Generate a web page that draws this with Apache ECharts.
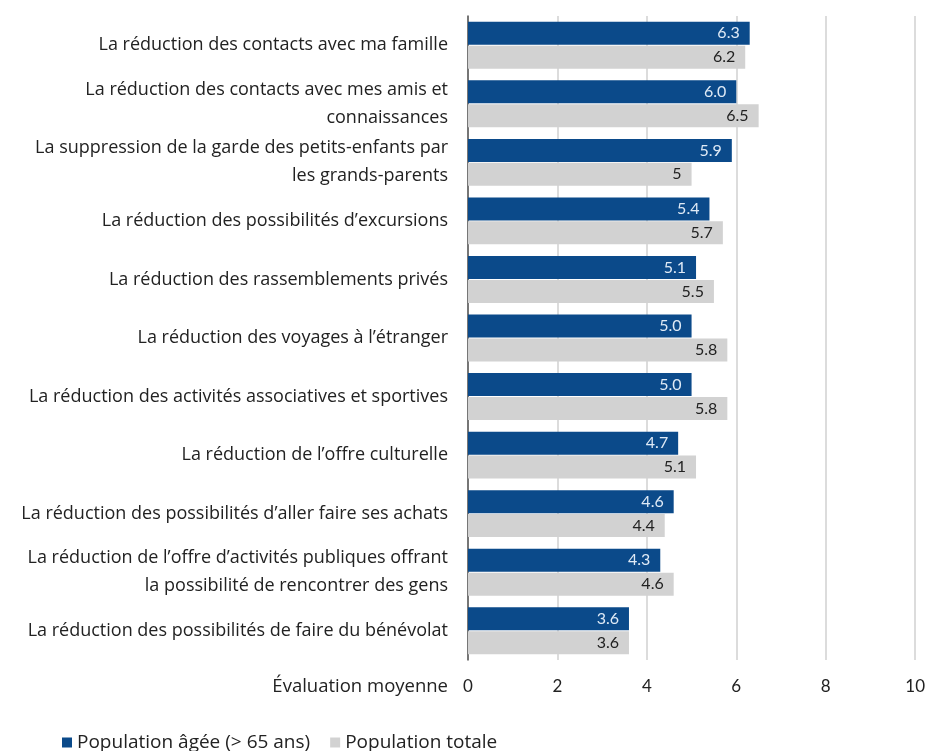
<!DOCTYPE html>
<html>
<head>
<meta charset="utf-8">
<script src="https://cdn.jsdelivr.net/npm/echarts@6/dist/echarts.min.js"></script>
<style>
    html, body {margin: 0; padding: 0; background: #fff;}
    #chart {width: 928px; height: 751px;}
</style>
</head>
<body>
<div id="chart"></div>
<script>
const categories = [
    'La réduction des contacts avec ma famille',
    'La réduction des contacts avec mes amis et\nconnaissances',
    'La suppression de la garde des petits-enfants par\nles grands-parents',
    'La réduction des possibilités d\u2019excursions',
    'La réduction des rassemblements privés',
    'La réduction des voyages à l\u2019étranger',
    'La réduction des activités associatives et sportives',
    'La réduction de l\u2019offre culturelle',
    'La réduction des possibilités d\u2019aller faire ses achats',
    'La réduction de l\u2019offre d\u2019activités publiques offrant\nla possibilité de rencontrer des gens',
    'La réduction des possibilités de faire du bénévolat'
]
const seniors = [6.3, 6.0, 5.9, 5.4, 5.1, 5.0, 5.0, 4.7, 4.6, 4.3, 3.6]
const total = [6.2, 6.5, 5, 5.7, 5.5, 5.8, 5.8, 5.1, 4.4, 4.6, 3.6]
const seriesNames = ['Population âgée (> 65 ans)', 'Population totale']
const colors = ['#0b4a8a', '#d2d2d2']

const chartObj = echarts.init(document.getElementById('chart'))

const labelFont = 'Open Sans'

const option = {
    backgroundColor: '#fff',
    animation: false,
    color: colors,
    grid: {
        left: 468,
        right: 11,
        top: 16,
        bottom: 91,
        containLabel: false
    },
    legend: {
        data: seriesNames,
        left: 57,
        top: 728,
        icon: 'rect',
        itemWidth: 10,
        itemHeight: 10,
        itemGap: 20,
        textStyle: {fontFamily: labelFont, fontSize: 19, color: '#222'}
    },
    xAxis: {
        type: 'value',
        min: 0,
        max: 10,
        interval: 2,
        name: 'Évaluation moyenne',
        nameLocation: 'start',
        nameGap: 20,
        nameTextStyle: {
            fontFamily: labelFont, fontSize: 18.5, color: '#222',
            align: 'right', verticalAlign: 'top',
            padding: [17, 0, 0, 0]
        },
        axisLine: {show: false},
        axisTick: {show: false},
        axisLabel: {fontFamily: 'Lato', fontSize: 17, color: '#222', margin: 18},
        splitLine: {show: true, lineStyle: {color: '#d0d0d0', width: 1.5}}
    },
    yAxis: {
        type: 'category',
        data: categories,
        inverse: true,
        axisLine: {show: true, lineStyle: {color: '#555', width: 1.5}},
        axisTick: {show: false},
        axisLabel: {
            fontFamily: labelFont, fontSize: 18, color: '#222',
            lineHeight: 28, margin: 20, align: 'right'
        }
    },
    series: [
        {
            name: seriesNames[0],
            type: 'bar',
            data: seniors,
            barWidth: 23,
            barGap: '4%',
            itemStyle: {color: colors[0]},
            label: {
                show: true, position: 'insideRight', distance: 10,
                fontFamily: 'Lato', fontSize: 16, color: '#dfeaf6',
                formatter: p => p.value.toFixed(1)
            }
        },
        {
            name: seriesNames[1],
            type: 'bar',
            data: total,
            barWidth: 23,
            itemStyle: {color: colors[1]},
            label: {
                show: true, position: 'insideRight', distance: 10,
                fontFamily: 'Lato', fontSize: 16, color: '#222',
                formatter: p => String(p.value)
            }
        }
    ]
}

chartObj.setOption(option)
</script>
</body>
</html>
